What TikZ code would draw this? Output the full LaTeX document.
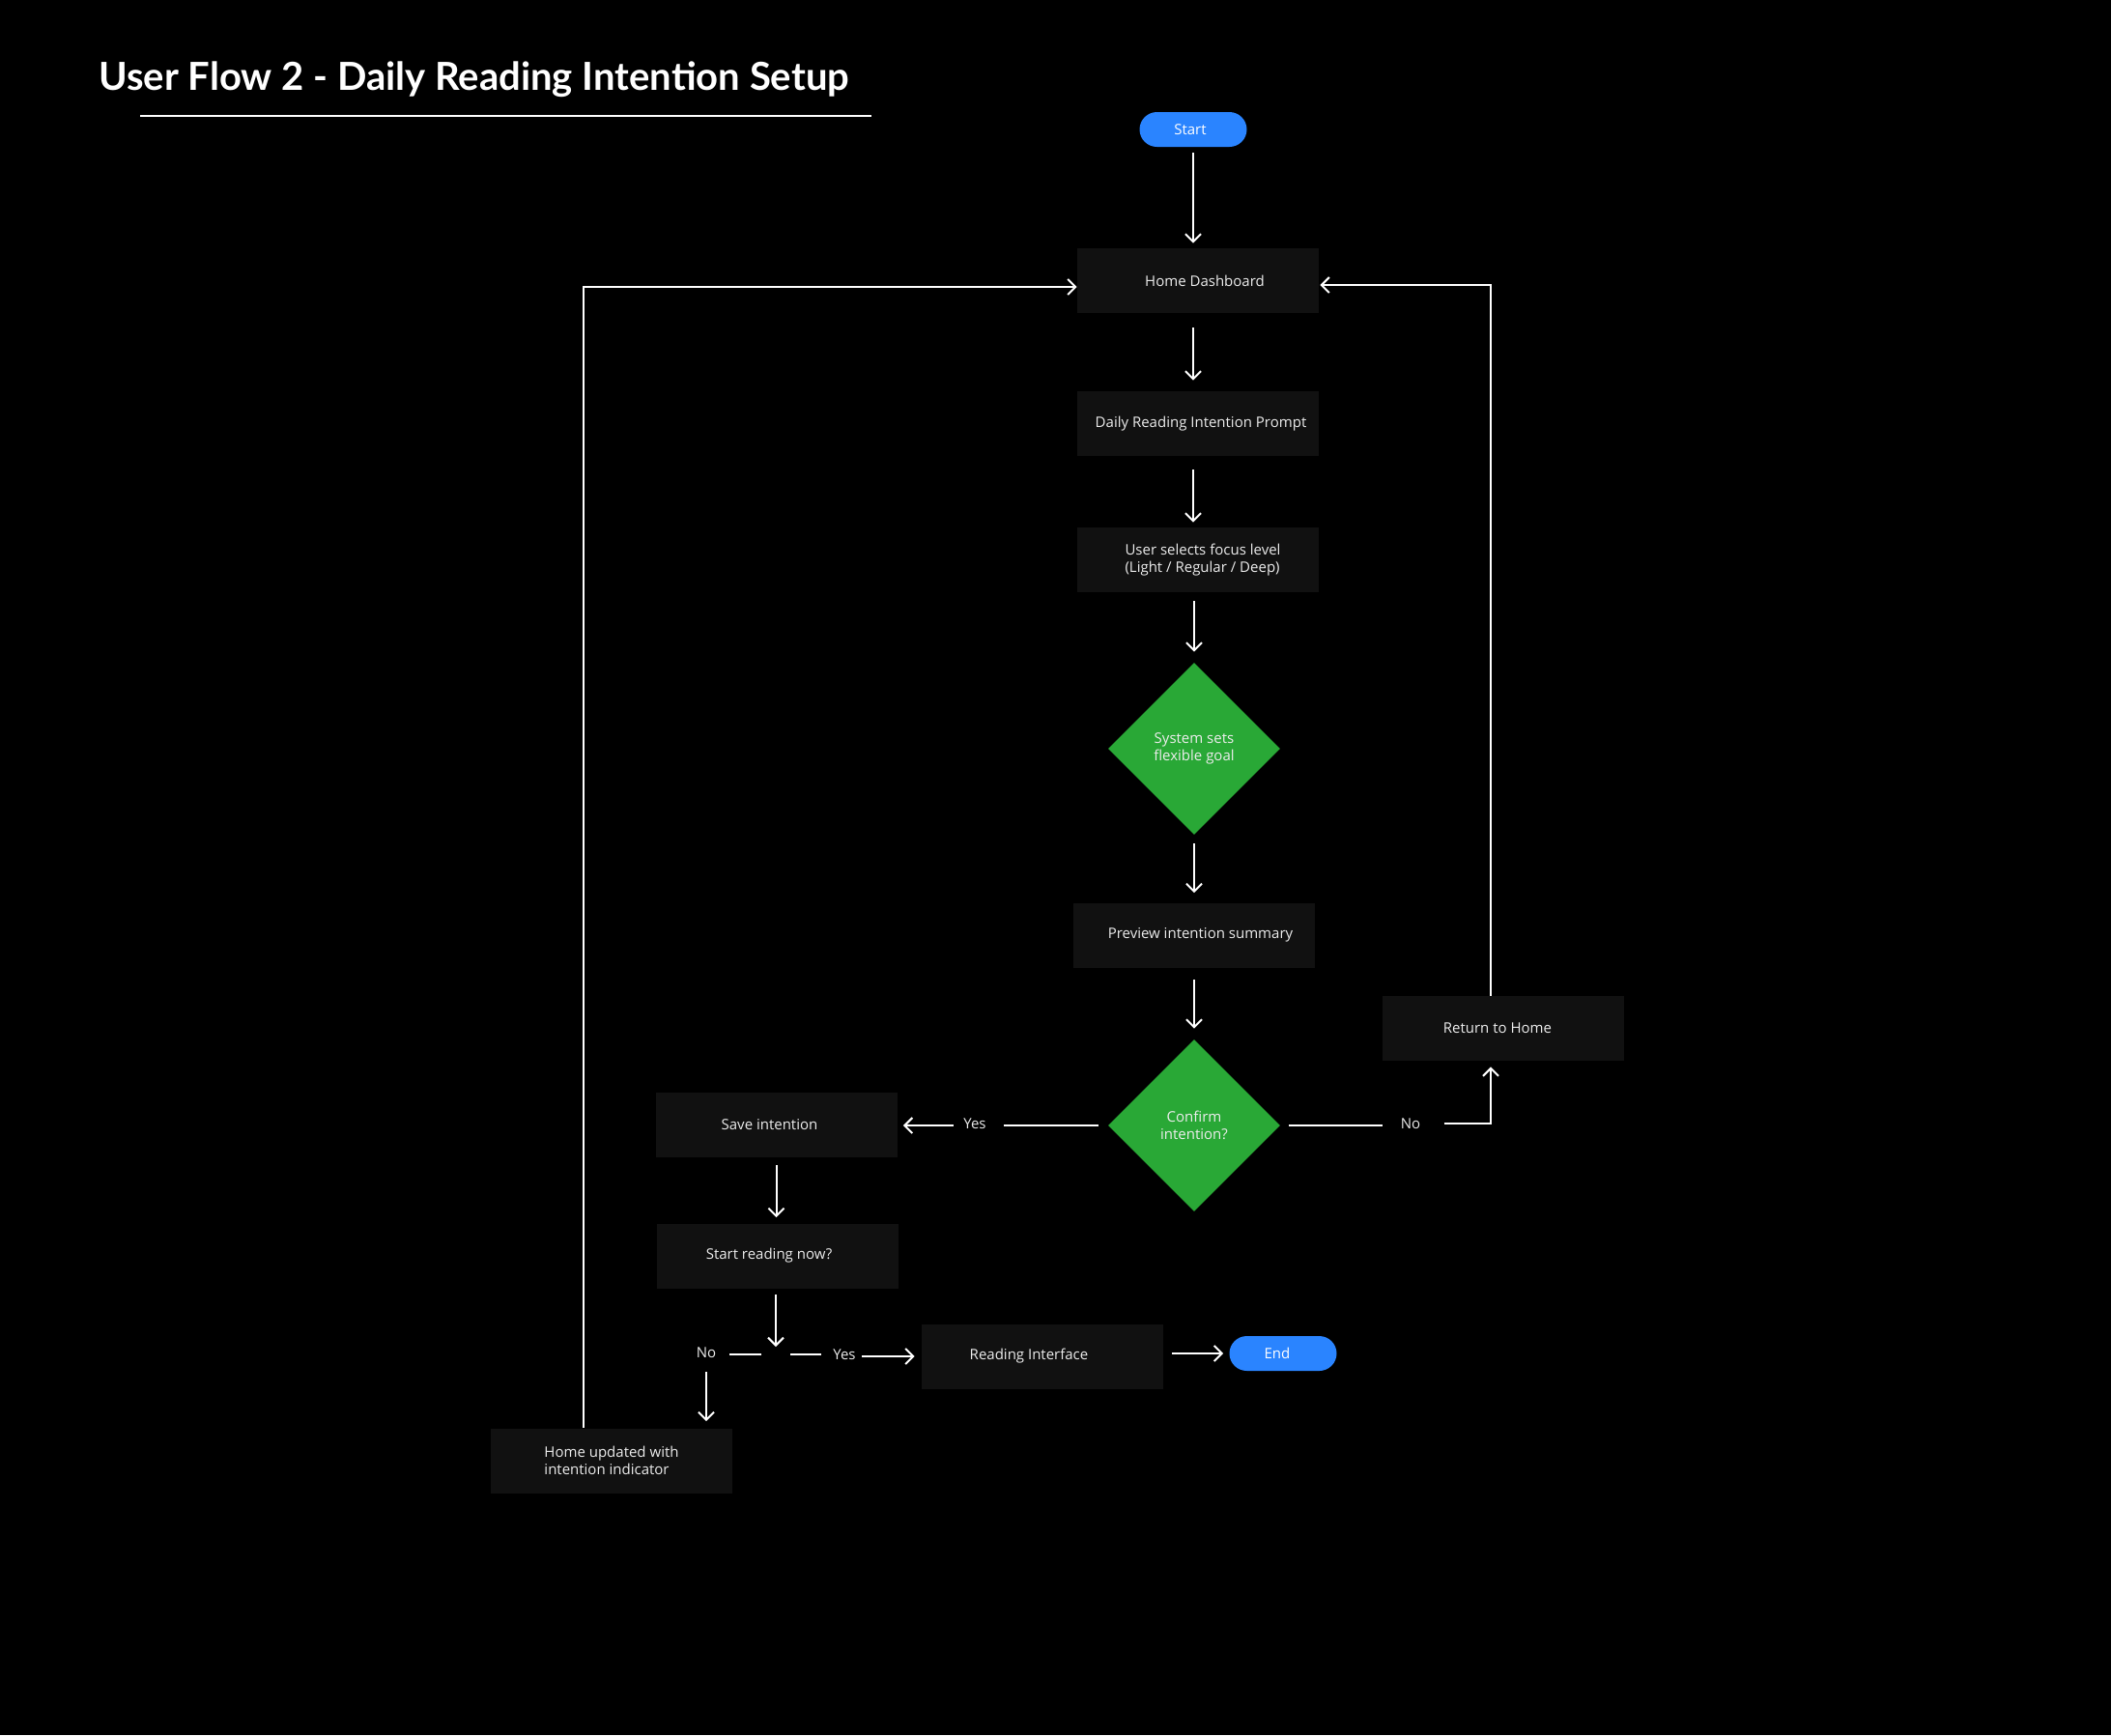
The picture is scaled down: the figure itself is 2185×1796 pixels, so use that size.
\documentclass[tikz,border=0pt]{standalone}
\usepackage{fontspec}
\setmainfont{Open Sans}
\newfontfamily\titlefont{Lato}
\usetikzlibrary{arrows.meta,shapes.geometric}
\definecolor{boxfill}{HTML}{111111}
\definecolor{dgreen}{HTML}{29A836}
\definecolor{pblue}{HTML}{2A84FF}
\definecolor{txt}{HTML}{EDEDED}
\tikzset{
  box/.style={rectangle, fill=boxfill, minimum width=125pt, minimum height=33.5pt, inner sep=0pt, text=txt, font=\fontsize{7.5}{9.2}\selectfont, align=left},
  pill/.style={rectangle, fill=pblue, rounded corners=9pt, minimum width=55.5pt, minimum height=18pt, inner sep=0pt, text=white, font=\fontsize{7.5}{9}\selectfont},
  dec/.style={diamond, fill=dgreen, minimum width=89pt, minimum height=89pt, aspect=1, inner sep=0pt, text=txt, font=\fontsize{7.5}{9.2}\selectfont, align=center},
  lbl/.style={text=txt, font=\fontsize{7.5}{9}\selectfont, inner sep=0pt},
  conn/.style={draw=white, line width=1pt},
  arr/.style={conn, -{Straight Barb[length=4pt,width=8pt,line width=1pt]}},
}
\begin{document}
\begin{tikzpicture}[x=0.5pt,y=-0.5pt]
\fill[black] (0,0) rectangle (2185,1796);
\useasboundingbox (0,0) rectangle (2185,1796);
% title
\node[anchor=base west, inner sep=0pt, text=white, font=\titlefont\bfseries\fontsize{20}{24}\selectfont] (title) at (102,93) {User Flow 2 - Daily Reading Intention Setup};
\coordinate (ul1) at (145,120);
\coordinate (ul2) at (902,120);
\draw[white, line width=0.6pt] (ul1) -- (ul2);
% nodes
\node[pill] (start) at (1235,134) {\hspace{-3pt}Start};
\node[box, align=center] (home) at (1240,290.5) {\hspace{7pt}Home Dashboard};
\node[box, align=center] (daily) at (1239.5,438.5) {\hspace{3.5pt}Daily Reading Intention Prompt};
\node[box] (user) at (1240,579.5) {\hspace{5pt}User selects focus level\\\hspace{5pt}(Light / Regular / Deep)};
\node[dec] (sys) at (1236,775) {System sets\\flexible goal};
\node[box, align=center] (prev) at (1235.5,968) {\hspace{7pt}Preview intention summary};
\node[dec] (conf) at (1236,1165) {Confirm\\intention?};
\node[box, align=center] (ret) at (1556,1064.5) {Return to Home\hspace{6pt}};
\node[box, align=center] (save) at (803.5,1164.5) {Save intention\hspace{7pt}};
\node[box, align=center] (now) at (805,1300) {Start reading now?\hspace{9pt}};
\node[box, align=center] (read) at (1079,1404) {Reading Interface\hspace{14pt}};
\node[pill] (endp) at (1328,1401) {\hspace{-6pt}End};
\node[box] (upd) at (633,1512) {Home updated with\\intention indicator};
% labels
\node[lbl] (noR) at (1460,1163) {No};
\node[lbl] (yesL) at (1009,1163) {Yes};
\node[lbl] (noB) at (731,1400) {No};
\node[lbl] (yesB) at (874,1402) {Yes};
\coordinate (j) at (803,1402);
% connectors
\draw[arr, shorten <=3pt, shorten >=2.5pt] (start.south) -- (start.south |- home.north);
\draw[arr, shorten <=7.5pt, shorten >=5.5pt] (start.south |- home.south) -- (start.south |- daily.north);
\draw[arr, shorten <=7pt, shorten >=2.5pt] (start.south |- daily.south) -- (start.south |- user.north);
\draw[arr, shorten <=4.5pt, shorten >=5.5pt] (user.south -| sys.north) -- (sys.north);
\draw[arr, shorten <=4.5pt, shorten >=5pt] (sys.south) -- (sys.south |- prev.north);
\draw[arr, shorten <=6pt, shorten >=5.5pt] (prev.south -| conf.north) -- (conf.north);
% confirm -> no -> return
\draw[conn, shorten <=4.5pt, shorten >=9pt] (conf.east) -- (noR.west |- conf.east);
\draw[conn, -{Straight Barb[length=4pt,width=8pt,line width=1pt]}, shorten >=3pt] ([xshift=12pt]noR.east) -| ([xshift=-6.5pt]ret.south);
% return -> home
\draw[arr, shorten >=0.5pt] ([xshift=-6.5pt]ret.north) |- ([yshift=-2.25pt]home.east);
% confirm -> yes -> save
\draw[conn, shorten <=5pt, shorten >=9pt] (conf.west) -- (yesL.east |- conf.west);
\draw[arr, shorten <=5pt, shorten >=3pt] (yesL.west |- conf.west) -- (save.east |- conf.west);
% save -> now
\draw[arr, shorten <=4pt, shorten >=3pt] (save.south) -- (save.south |- now.north);
\draw[arr, shorten <=3pt, shorten >=4pt] (now.south -| j) -- (j);
% junction
\draw[conn] ([xshift=-7.5pt]j) -- ([xshift=-24pt]j);
\draw[conn] ([xshift=7.5pt]j) -- ([xshift=23.5pt]j);
\draw[arr, shorten <=3pt, shorten >=3.5pt] ([yshift=-1pt]yesB.east) -- ([yshift=-1pt]yesB.east -| read.west);
\draw[arr, shorten <=4.5pt, shorten >=3pt] (read.east |- endp.west) -- (endp.west);
\draw[arr, shorten <=7pt, shorten >=3.5pt] (noB.south) -- (noB.south |- upd.north);
% updated -> home
\draw[white, line width=0.7pt, -{Straight Barb[length=4pt,width=8pt,line width=1pt]}] ([xshift=-14.5pt]upd.north) |- ([yshift=-3.25pt]home.west);
\end{tikzpicture}
\end{document}
